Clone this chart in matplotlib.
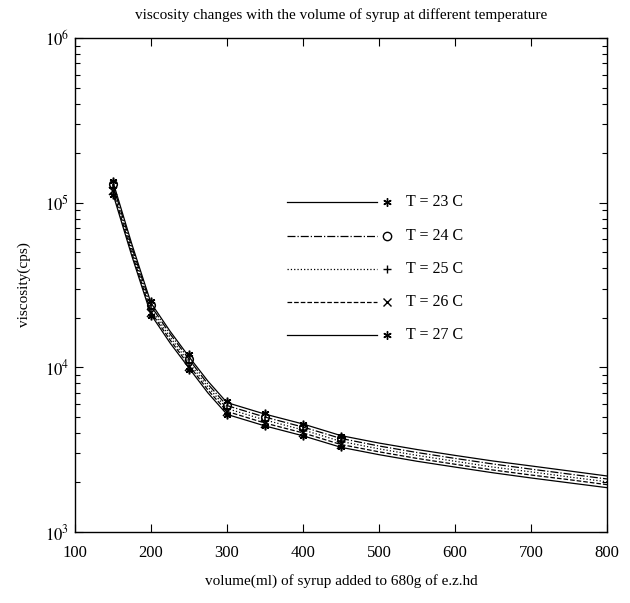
import matplotlib
matplotlib.use('Agg')
import matplotlib.pyplot as plt
from matplotlib.ticker import FixedLocator, LogLocator, NullFormatter

plt.rcParams['font.family'] = ['Liberation Serif', 'DejaVu Serif']
plt.rcParams['mathtext.fontset'] = 'stix'

# fitted curves
vol = [150, 175, 200, 225, 250, 275, 300, 350, 400, 450, 500, 550, 600, 650, 700, 750, 800]
fit_23 = [134000, 55700, 24600, 16600, 11600, 8240, 6110, 5200, 4530, 3850, 3470, 3170, 2920, 2700, 2520, 2350, 2190]
fit_24 = [128000, 53400, 23600, 16000, 11200, 7900, 5860, 4990, 4340, 3700, 3330, 3040, 2800, 2590, 2410, 2250, 2100]
fit_25 = [123000, 51300, 22600, 15300, 10700, 7590, 5620, 4790, 4170, 3550, 3200, 2920, 2690, 2480, 2320, 2160, 2020]
fit_26 = [118000, 49200, 21700, 14700, 10300, 7280, 5400, 4590, 4000, 3400, 3070, 2800, 2580, 2380, 2220, 2080, 1940]
fit_27 = [113000, 47200, 20900, 14100, 9900, 6990, 5180, 4410, 3840, 3270, 2950, 2690, 2480, 2290, 2130, 1990, 1860]

# measured points
vol_meas = [150, 200, 250, 300, 350, 400, 450]
meas_23 = [135000, 25300, 12000, 6250, 5250, 4550, 3850]
meas_24 = [129000, 24000, 11300, 5900, 5000, 4350, 3700]
meas_25 = [123000, 22500, 10600, 5600, 4750, 4150, 3550]
meas_26 = [117000, 21400, 10100, 5350, 4550, 3980, 3400]
meas_27 = [112000, 20500, 9700, 5150, 4400, 3850, 3280]

labels = ['T = 23 C', 'T = 24 C', 'T = 25 C', 'T = 26 C', 'T = 27 C']
fits = [fit_23, fit_24, fit_25, fit_26, fit_27]
meas = [meas_23, meas_24, meas_25, meas_26, meas_27]
styles = ['-', '-.', ':', '--', '-']
asterisk = (6, 2, 0)
markers = [asterisk, 'o', '+', 'x', asterisk]

fig = plt.figure(figsize=(6.3, 6.03), dpi=100)
ax = fig.add_axes([0.119, 0.1177, 0.8444, 0.8193])

for f, m, ls, mk in zip(fits, meas, styles, markers):
    ax.plot(vol, f, color='black', linestyle=ls, linewidth=0.9)
    ax.plot(vol_meas, m, linestyle='none', marker=mk, color='black',
            markersize=5.5, markerfacecolor='none' if mk == 'o' else 'black',
            markeredgewidth=1.1)

ax.set_yscale('log')
ax.set_xlim(100, 800)
ax.set_ylim(1e3, 1e6)
ax.xaxis.set_major_locator(FixedLocator([100, 200, 300, 400, 500, 600, 700, 800]))
ax.yaxis.set_major_locator(FixedLocator([1e3, 1e4, 1e5, 1e6]))
ax.set_yticklabels([r'$10^{3}$', r'$10^{4}$', r'$10^{5}$', r'$10^{6}$'])
ax.yaxis.set_minor_locator(LogLocator(base=10, subs=range(2, 10)))
ax.yaxis.set_minor_formatter(NullFormatter())
ax.tick_params(which='both', direction='in', top=True, right=True, labelsize=12, width=0.8)
ax.tick_params(which='major', length=6)
ax.tick_params(which='minor', length=3.5)
ax.tick_params(axis='x', pad=9)
ax.tick_params(axis='y', pad=4)
for s in ax.spines.values():
    s.set_linewidth(1.0)

# legend drawn by hand: line, then marker, then label
rows = [0.668, 0.600, 0.533, 0.465, 0.398]
for yy, ls, mk, lab in zip(rows, styles, markers, labels):
    ax.plot([0.398, 0.568], [yy, yy], transform=ax.transAxes, color='black',
            linestyle=ls, linewidth=0.9)
    ax.plot([0.587], [yy], transform=ax.transAxes, marker=mk, color='black',
            markersize=6, markerfacecolor='none' if mk == 'o' else 'black',
            linestyle='none')
    ax.text(0.622, yy, lab, transform=ax.transAxes, fontsize=11.5, va='center', ha='left')

ax.set_title('viscosity changes with the volume of syrup at different temperature',
             fontsize=11, pad=14)
ax.set_xlabel('volume(ml) of syrup added to 680g of e.z.hd', fontsize=11, labelpad=10)
ax.set_ylabel('viscosity(cps)', fontsize=11, labelpad=10)

fig.savefig('out.png', dpi=100)
